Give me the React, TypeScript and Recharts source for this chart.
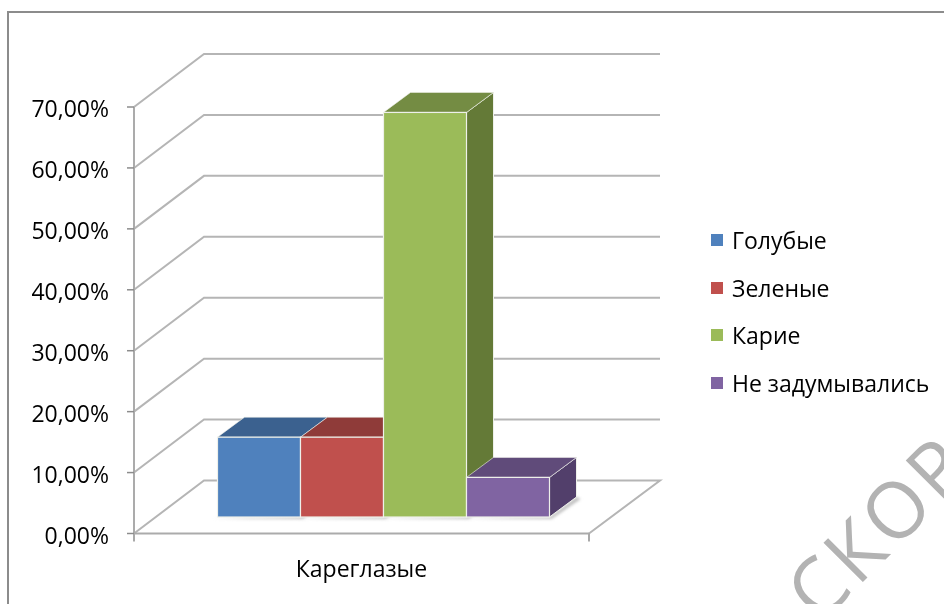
import React from 'react';
import { BarChart, Bar, XAxis, YAxis, CartesianGrid, Legend } from 'recharts';

const categories = ['Кареглазые'];
const seriesNames = ['Голубые', 'Зеленые', 'Карие', 'Не задумывались'];
const seriesValues = [13.1, 13.1, 66.4, 6.5];
const yTicks = [0, 10, 20, 30, 40, 50, 60, 70];

const frontColors = ['#4F81BD', '#C0504D', '#9BBB59', '#8064A2'];
const topColors = ['#3B618F', '#8F3B39', '#748C43', '#604B7A'];
const sideColors = ['#34557E', '#7D3332', '#647A37', '#523F6B'];

const tableRow: Record<string, string | number> = { name: categories[0] };
seriesNames.forEach((n, i) => {
  tableRow[n] = seriesValues[i];
});
const data = [tableRow];

const FONT = '"Open Sans", sans-serif';

// depth of the fake 3D: back wall offset and bar depth
const WALL_DX = 70;
const WALL_DY = -53;
const BAR_SHIFT_X = 21.5;
const BAR_SHIFT_Y = -16.5;
const BAR_DX = 27;
const BAR_DY = -20;

const BackWallLine = (props: any) => {
  const { x1, y1, x2, y2 } = props;
  const bx = x1 + WALL_DX;
  const by = y1 + WALL_DY;
  const ex = x2 + WALL_DX + 1;
  const isFloor = Math.abs(y2 - 533.5) < 1;
  const pts = [`${x1},${y1}`, `${bx},${by}`, `${ex},${by}`];
  if (isFloor) pts.push(`${x2},${y2}`);
  return (
    <g>
      <polyline points={pts.join(' ')} fill="none" stroke="#b5b5b5" strokeWidth={2} />
      {isFloor && (
        <>
          <line x1={x1} y1={y1} x2={x1} y2={y1 + 8} stroke="#8c8c8c" strokeWidth={1.5} />
          <line x1={x2} y1={y1} x2={x2} y2={y1 + 8} stroke="#8c8c8c" strokeWidth={1.5} />
        </>
      )}
    </g>
  );
};

const Bar3D = (props: any) => {
  const { x, y, width, height, index } = props;
  const colorIdx = props.colorIdx ?? index;
  const l = x + BAR_SHIFT_X;
  const t = y + BAR_SHIFT_Y;
  const r = l + width;
  const b = t + height;
  const edge = '#eef0ea';
  return (
    <g>
      <polygon
        points={`${l - 5},${b + 2} ${r + 2},${b + 2} ${r + BAR_DX + 4},${b + BAR_DY + 2} ${r + BAR_DX},${b + BAR_DY} ${r},${b}`}
        fill="#bdbdbd"
        filter="url(#soft)"
      />
      <polygon
        points={`${r},${t} ${r + BAR_DX},${t + BAR_DY} ${r + BAR_DX},${b + BAR_DY} ${r},${b}`}
        fill={sideColors[colorIdx]}
        stroke={edge}
        strokeWidth={1}
      />
      <polygon
        points={`${l},${t} ${l + BAR_DX},${t + BAR_DY} ${r + BAR_DX},${t + BAR_DY} ${r},${t}`}
        fill={topColors[colorIdx]}
        stroke={edge}
        strokeWidth={0.6}
      />
      <rect x={l} y={t} width={width} height={height} fill={frontColors[colorIdx]} stroke={edge} strokeWidth={1.2} />
    </g>
  );
};

const LegendList = (props: any) => (
  <div style={{ fontFamily: FONT, fontSize: 23, color: '#000' }}>
    {props.payload.map((p: any) => (
      <div key={p.value} style={{ display: 'flex', alignItems: 'center', height: 47.7 }}>
        <span style={{ width: 12, height: 12, background: p.color, marginRight: 9, display: 'inline-block' }} />
        <span style={{ whiteSpace: 'nowrap' }}>{p.value}</span>
      </div>
    ))}
  </div>
);

export default function App() {
  return (
    <div style={{ position: 'absolute', left: 0, top: 0, width: 944, height: 604, overflow: 'hidden', background: '#fff' }}>
      <div style={{ position: 'absolute', left: 7, top: 11, width: 940, height: 600, border: '2px solid #8c8c8c', boxSizing: 'border-box' }} />
      <BarChart
        width={944}
        height={604}
        data={data}
        margin={{ top: 107, right: 125, bottom: 0, left: 0 }}
        barCategoryGap={62}
        barGap={0}
        style={{ position: 'absolute', left: 0, top: 0, filter: 'blur(0.4px)' }}
      >
        <defs>
          <filter id="soft" x="-20%" y="-50%" width="140%" height="200%">
            <feGaussianBlur stdDeviation="1.5" />
          </filter>
        </defs>
        <CartesianGrid vertical={false} horizontal={(p: any) => <BackWallLine key={p.key} {...p} />} />
        <XAxis
          dataKey="name"
          height={70.5}
          axisLine={{ stroke: '#ababab', strokeWidth: 2 }}
          tickLine={false}
          tickSize={7}
          tickMargin={20}
          tick={{ fill: '#000', fontSize: 23, fontFamily: FONT }}
        />
        <YAxis
          width={134}
          domain={[0, 70]}
          ticks={yTicks}
          interval={0}
          tickFormatter={(v: number) => `${v},00%`}
          axisLine={{ stroke: '#ababab', strokeWidth: 2 }}
          tickLine={{ stroke: '#8c8c8c', strokeWidth: 1.5 }}
          tickSize={7}
          tickMargin={18}
          tick={{ fill: '#000', fontSize: 23, fontFamily: FONT, dy: 2 }}
        />
        <Legend
          layout="vertical"
          align="right"
          verticalAlign="middle"
          content={<LegendList />}
          wrapperStyle={{ left: 711, top: 216, width: 230 }}
        />
        {seriesNames.map((n, i) => (
          <Bar
            key={n}
            dataKey={n}
            fill={frontColors[i]}
            isAnimationActive={false}
            shape={(p: any) => <Bar3D {...p} colorIdx={i} />}
          />
        ))}
      </BarChart>
      <svg width={944} height={604} style={{ position: 'absolute', left: 0, top: 0, pointerEvents: 'none' }}>
        <text x={820} y={625} transform="rotate(-45 820 625)" fontFamily={FONT} fontSize={78} fill="#b3b3b3" letterSpacing={4}>
          СКОР
        </text>
      </svg>
    </div>
  );
}
